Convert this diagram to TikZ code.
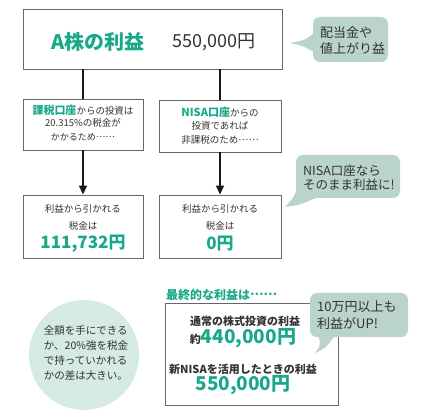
\documentclass[tikz,border=0pt]{standalone}
\usepackage{fontspec}
\setmainfont{Noto Sans CJK JP}
\usetikzlibrary{arrows.meta}
\definecolor{grn}{HTML}{1AA88A}
\definecolor{bub}{HTML}{BAD3CC}
\definecolor{circ}{HTML}{D6EAE5}
\definecolor{txt}{HTML}{333333}
\newcommand{\fs}[1]{\fontsize{#1}{#1}\selectfont}
\newcommand{\midell}{\raisebox{0.33em}{……}}
\begin{document}
\begin{tikzpicture}[x=1pt,y=-1pt,
  box/.style={draw=black!60,line width=0.9pt,fill=white,inner sep=0pt},
  bubble/.style={fill=bub,rounded corners=7pt,inner sep=0pt},
  btext/.style={anchor=west,align=left,text=txt,inner sep=0pt,font=\fontsize{13}{16.5}\selectfont},
  conn/.style={line width=1.5pt,draw=black!90},
  arr/.style={line width=1.5pt,draw=black!90,-{Triangle[width=8pt,length=9pt]}},
  lab/.style={text=txt,inner sep=0pt},
  big/.style={text=grn,inner sep=0pt,font=\bfseries\fs{19}}]
\useasboundingbox (0,0) rectangle (421,411);
\fill[white] (0,0) rectangle (421,411);

% top box
\node[box,minimum width=259pt,minimum height=60pt] (top) at (152.5,39) {};
\node[text=grn,inner sep=0pt,font=\bfseries\fs{20}] (title) at (98,42) {A株の利益};
\node[lab,font=\fs{18}] (amt) at (214,42) {550,000円};

% bubble 1
\fill[bub] (316,31) .. controls (306,40) .. (290,43) .. controls (303,46) .. (316,53) -- cycle;
\node[bubble,minimum width=75pt,minimum height=45pt] (b1) at (350.5,39.5) {};
\node[btext] (b1t) at (320,40.5) {配当金や\\値上がり益};

% middle boxes
\node[box,minimum width=120pt,minimum height=51pt] (ml) at (83,124.5) {};
\node[box,minimum width=122pt,minimum height=52pt] (mr) at (220,126) {};
\draw[conn] (top.south -| ml.north) -- (ml.north);
\draw[conn] (top.south -| mr.north) -- (mr.north);

\node[lab] (ml1) at (83,110) {{\color{grn}\bfseries\fs{11}課税口座}{\fs{9.5}からの投資は}};
\node[lab,font=\fs{9.5}] (ml2) at (83,123) {20.315\%の税金が};
\node[lab,font=\fs{9}] (ml3) at (83,137) {かかるため\midell};

\node[lab] (mr1) at (220,112) {{\color{grn}\bfseries\fs{11}NISA口座}{\fs{9.5}からの}};
\node[lab,font=\fs{9.5}] (mr2) at (220,126) {投資であれば};
\node[lab,font=\fs{9.5}] (mr3) at (220,140) {非課税のため\midell};

% bottom boxes
\node[box,minimum width=120pt,minimum height=63pt] (bl) at (83,226.5) {};
\node[box,minimum width=122pt,minimum height=63pt] (br) at (220,226.5) {};
\draw[arr] (ml.south) -- (bl.north);
\draw[arr] (mr.south) -- (br.north);

\node[lab,font=\fs{9.5}] (bl1) at (83,209) {利益から引かれる};
\node[lab,font=\fs{9.5}] (bl2) at (83,226) {税金は};
\node[big,font=\bfseries\fs{17}] (bl3) at (83,244) {111,732円};
\node[lab,font=\fs{9.5}] (br1) at (220,209) {利益から引かれる};
\node[lab,font=\fs{9.5}] (br2) at (220,226) {税金は};
\node[big,font=\bfseries\fs{17}] (br3) at (220,244) {0円};

% bubble 2
\fill[bub] (298,178) .. controls (296,195) .. (285,207) .. controls (300,205) .. (320,196) -- cycle;
\node[bubble,minimum width=104pt,minimum height=43pt] (b2) at (348,176.5) {};
\node[btext,font=\fontsize{12.5}{14.5}\selectfont] (b2t) at (303,178) {NISA口座なら\\そのまま利益に!};

% circle
\node[circle,fill=circ,minimum size=110pt,inner sep=0pt] (c) at (84,355) {};
\node[lab,align=left,font=\fontsize{10.5}{15.3}\selectfont] (ct) at (86,353) {全額を手にできる\\か、20\%強を税金\\で持っていかれる\\かの差は大きい。};

% final box
\node[text=grn,anchor=west,inner sep=0pt,font=\bfseries\fs{12}] (fl) at (166,295) {最終的な利益は\midell};
\node[box,minimum width=173pt,minimum height=102pt] (fb) at (251.5,354) {};
\node[lab,font=\bfseries\fs{11}] (f1) at (245,321) {通常の株式投資の利益};
\node[lab] (f2) at (243,338) {{\bfseries\fs{11}約}{\color{grn}\bfseries\fs{19}440,000円}};
\node[lab,font=\bfseries\fs{11}] (f3) at (243,369) {新NISAを活用したときの利益};
\node[big] (f4) at (243,385) {550,000円};

% bubble 3
\fill[bub] (318,334) .. controls (321,345) .. (315,353) .. controls (326,348) .. (336,334) -- cycle;
\node[bubble,minimum width=98pt,minimum height=44pt] (b3) at (359,315) {};
\node[btext] (b3t) at (317,315) {10万円以上も\\利益がUP!};
\end{tikzpicture}
\end{document}
